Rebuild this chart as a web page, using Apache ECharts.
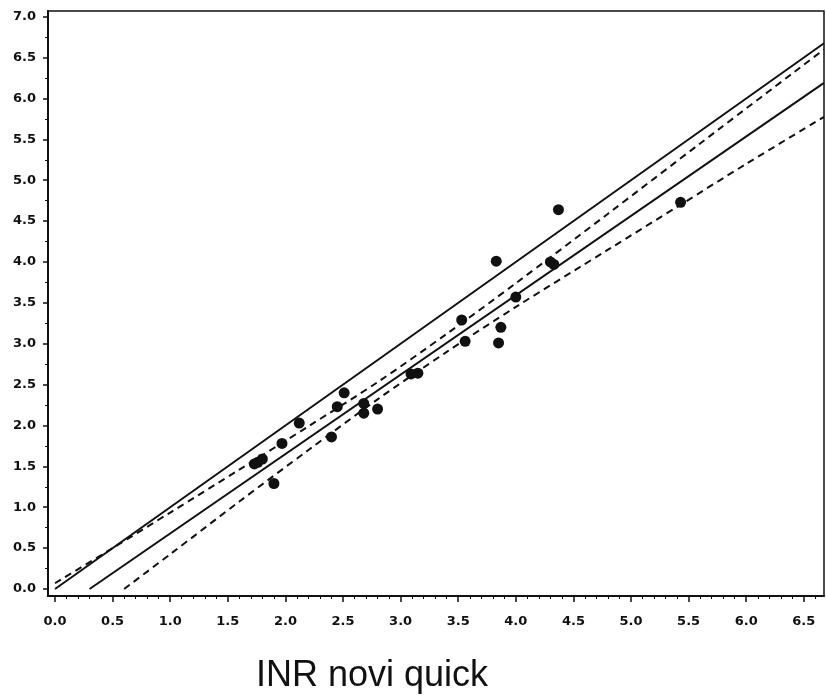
<!DOCTYPE html>
<html>
<head>
<meta charset="utf-8">
<script src="https://cdn.jsdelivr.net/npm/echarts@6/dist/echarts.min.js"></script>
<style>html,body{margin:0;padding:0;background:#fff;}#c{width:826px;height:700px;}</style>
</head>
<body>
<div id="c"></div>
<script>
// ---- data ----
var xTicks = [0.0, 0.5, 1.0, 1.5, 2.0, 2.5, 3.0, 3.5, 4.0, 4.5, 5.0, 5.5, 6.0, 6.5];
var yTicks = [0.0, 0.5, 1.0, 1.5, 2.0, 2.5, 3.0, 3.5, 4.0, 4.5, 5.0, 5.5, 6.0, 6.5, 7.0];
var xMinorTicks = [0.1,0.2,0.3,0.4,0.6,0.7,0.8,0.9,1.1,1.2,1.3,1.4,1.6,1.7,1.8,1.9,2.1,2.2,2.3,2.4,2.6,2.7,2.8,2.9,3.1,3.2,3.3,3.4,3.6,3.7,3.8,3.9,4.1,4.2,4.3,4.4,4.6,4.7,4.8,4.9,5.1,5.2,5.3,5.4,5.6,5.7,5.8,5.9,6.1,6.2,6.3,6.4,6.6];
var yMinorTicks = [0.25,0.75,1.25,1.75,2.25,2.75,3.25,3.75,4.25,4.75,5.25,5.75,6.25,6.75];
var xTitle = 'INR novi quick';

var points = [
  [1.73,1.53],[1.76,1.55],[1.80,1.59],[1.90,1.29],[1.97,1.78],[2.12,2.03],
  [2.40,1.86],[2.45,2.23],[2.51,2.40],[2.68,2.27],[2.68,2.15],[2.80,2.20],
  [3.09,2.63],[3.15,2.64],[3.53,3.29],[3.56,3.03],[3.83,4.01],[3.87,3.20],
  [3.85,3.01],[4.00,3.57],[4.30,4.00],[4.33,3.97],[4.37,4.64],[5.43,4.73]
];
// identity line (solid, upper)
var identityLine = [[0.00,0.00],[6.675,6.675]];
// regression line (solid, lower)
var regressionLine = [[0.30,0.00],[6.675,6.19]];
// confidence band (dashed)
var bandUpper = [[0.0,0.07],[0.5,0.50],[1.0,0.935],[1.6,1.46],[2.2,1.99],[2.8,2.53],
                 [3.4,3.12],[4.0,3.74],[4.8,4.59],[5.6,5.45],[6.675,6.60]];
var bandLower = [[0.6,0.0],[1.0,0.425],[1.6,1.07],[2.2,1.70],[2.8,2.32],[3.4,2.90],
                 [4.0,3.45],[4.8,4.15],[5.43,4.70],[6.0,5.20],[6.675,5.775]];

var XMIN = -0.061, XMAX = 6.675, YMIN = -0.086, YMAX = 7.07;

var labelFont = {color:'#111', fontFamily:'DejaVu Sans', fontWeight:'bold', fontSize:13};
function fmt(v){ return Number(v).toFixed(1); }

var chart = echarts.init(document.getElementById('c'), null, {renderer:'canvas'});
chart.setOption({
  animation:false,
  backgroundColor:'#fff',
  title:{text:xTitle, left:256, top:658, padding:0,
    textStyle:{fontFamily:'Liberation Sans', fontWeight:'normal', fontSize:36, color:'#111'}},
  grid:{left:48, right:2, top:11, bottom:104, show:true, borderColor:'#111', borderWidth:1.5, backgroundColor:'transparent'},
  xAxis:[
    {type:'value', min:XMIN, max:XMAX, position:'bottom',
      axisLine:{show:true, onZero:false, lineStyle:{color:'#111', width:2}},
      axisTick:{show:true, length:6, customValues:xTicks, lineStyle:{color:'#111', width:1.5}},
      axisLabel:Object.assign({show:true, margin:19, customValues:xTicks, formatter:fmt}, labelFont),
      splitLine:{show:false}},
    {type:'value', min:XMIN, max:XMAX, position:'bottom',
      axisLine:{show:false, onZero:false},
      axisTick:{show:true, length:3, customValues:xMinorTicks, lineStyle:{color:'#111', width:1}},
      axisLabel:{show:false}, splitLine:{show:false}}
  ],
  yAxis:[
    {type:'value', min:YMIN, max:YMAX, position:'left',
      axisLine:{show:true, onZero:false, lineStyle:{color:'#111', width:2}},
      axisTick:{show:true, length:5, customValues:yTicks, lineStyle:{color:'#111', width:1.5}},
      axisLabel:Object.assign({show:true, margin:12, customValues:yTicks, formatter:fmt}, labelFont),
      splitLine:{show:false}},
    {type:'value', min:YMIN, max:YMAX, position:'left',
      axisLine:{show:false, onZero:false},
      axisTick:{show:true, length:3, customValues:yMinorTicks, lineStyle:{color:'#111', width:1}},
      axisLabel:{show:false}, splitLine:{show:false}}
  ],
  series:[
    {type:'line', data:identityLine, symbol:'none', clip:true, lineStyle:{color:'#111', width:2}},
    {type:'line', data:bandUpper, symbol:'none', smooth:0.3, clip:true, lineStyle:{color:'#111', width:2, type:[7,5]}},
    {type:'line', data:regressionLine, symbol:'none', clip:true, lineStyle:{color:'#111', width:2}},
    {type:'line', data:bandLower, symbol:'none', smooth:0.3, clip:true, lineStyle:{color:'#111', width:2, type:[7,5]}},
    {type:'scatter', data:points, symbol:'circle', symbolSize:11, itemStyle:{color:'#111', opacity:1}}
  ]
});
</script>
</body>
</html>
